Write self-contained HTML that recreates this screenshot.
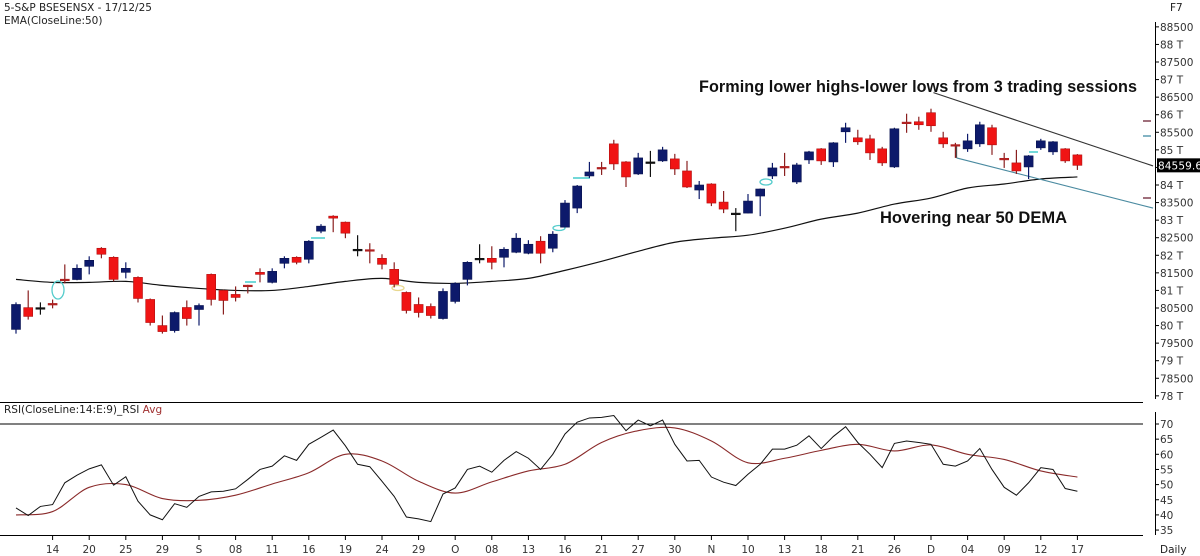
<!DOCTYPE html>
<html><head><meta charset="utf-8"><style>
html,body{margin:0;padding:0;background:#fff;}
svg{display:block;font-family:Tahoma,"DejaVu Sans","Liberation Sans",sans-serif;}
</style></head><body>
<svg id="c" width="1200" height="556" viewBox="0 0 1200 556">
<rect width="1200" height="556" fill="#fff"/>
<text x="4" y="11" font-size="10.5" fill="#222">5-S&amp;P BSESENSX - 17/12/25</text>
<text x="4" y="24" font-size="10.5" fill="#222">EMA(CloseLine:50)</text>
<text x="1170" y="11" font-size="10.5" fill="#222">F7</text>
<text x="4" y="413" font-size="10.5" fill="#222">RSI(CloseLine:14:E:9)_RSI <tspan fill="#a03030">Avg</tspan></text>
<text x="1160" y="553" font-size="10.5" fill="#222">Daily</text>
<line x1="1155.5" y1="22" x2="1155.5" y2="399" stroke="#000"/>
<line x1="1155.5" y1="412" x2="1155.5" y2="535" stroke="#000"/>
<line x1="0" y1="402.5" x2="1143" y2="402.5" stroke="#000"/>
<line x1="0" y1="535.5" x2="1143" y2="535.5" stroke="#000"/>
<text x="699" y="92" font-size="16.2" font-weight="bold" font-family="Liberation Sans,sans-serif" fill="#111" textLength="438">Forming lower highs-lower lows from 3 trading sessions</text>
<text x="880" y="223" font-size="16.5" font-weight="bold" font-family="Liberation Sans,sans-serif" fill="#111" textLength="187">Hovering near 50 DEMA</text>
<g id="g"></g>
</svg>
<script>
const opens=[79890,80510,80510,80630,81320,81310,81686,82200,81943,81514,81371,80743,80000,79857,80514,80457,81457,81000,80886,81150,81514,81229,81771,81943,81886,82686,83114,82943,82171,82160,81914,81600,80943,80600,80543,80200,80686,81314,81914,81914,81943,82086,82057,82400,82200,82800,83343,84257,84500,85171,84657,84314,84657,84686,84743,84400,83857,84029,83514,83200,83200,83686,84257,84530,84086,84714,85029,84657,85514,85343,85314,85029,84514,85790,85800,86057,85343,85150,85029,85171,85629,84760,84629,84514,85057,84943,85029,84857];
const highs=[80660,81000,80660,80740,81740,81740,81971,82230,81970,81800,81400,80770,80286,80400,80714,80629,81480,81020,81114,81160,81629,81629,81971,81970,82429,82886,83140,82960,82571,82343,82029,81800,80970,80800,80629,81057,81230,81829,82314,82257,82229,82629,82429,82543,82686,83571,84000,84657,84657,85286,84680,84914,84971,85086,84886,84686,84114,84050,83829,83343,83743,83900,84629,84914,84629,84971,85050,85220,85771,85571,85429,85086,85630,86029,85943,86171,85514,85200,85457,85800,85714,84914,85000,84850,85314,85250,85050,84880];
const lows=[79770,80170,80310,80490,81200,81290,81457,81914,81257,81343,80657,80000,79771,79800,80000,80000,80571,80314,80686,80914,81229,81200,81629,81743,81771,82629,82657,82486,81971,81771,81600,81086,80343,80229,80200,80171,80629,81143,81771,81600,81657,82060,82029,81771,82086,82790,83200,84200,84286,84429,83943,84286,84229,84657,84286,83914,83600,83400,83200,82686,83190,83114,84171,84257,84029,84600,84571,84514,85200,85143,84714,84543,84486,85486,85571,85514,85057,84771,84943,85086,84857,84486,84314,84171,85000,84857,84629,84429];
const closes=[80600,80260,80510,80610,81300,81630,81857,82029,81314,81629,80771,80086,79829,80371,80200,80571,80743,80714,80800,81130,81457,81543,81914,81800,82400,82829,83057,82629,82171,82140,81743,81171,80429,80371,80286,80971,81200,81800,81914,81800,82171,82486,82314,82057,82600,83486,83971,84371,84480,84600,84229,84771,84657,85000,84457,83943,84000,83486,83314,83200,83543,83886,84486,84500,84571,84943,84686,85200,85629,85229,84914,84629,85600,85770,85714,85686,85171,85130,85257,85714,85143,84740,84400,84829,85257,85229,84686,84560];
const emaValues=[81314,81229,81229,81257,81143,81057,81000,81000,81114,81257,81343,81229,81200,81257,81343,81571,81829,82114,82371,82486,82571,82771,83029,83200,83457,83629,83914,84029,84171,84229];
const rsiValues=[42.3,39.8,42.8,43.4,50.6,53.1,55.2,56.5,49.8,52.6,44.5,40,38.4,43.7,42.5,46.1,47.6,47.8,48.6,51.7,55,56.1,59.5,58,63.3,65.6,68,62.8,56.7,55.9,51.1,46.1,39.3,38.7,37.8,46.9,48.9,55,56.1,54.1,58,60.9,58.7,55,60,66.7,70.6,72,72.2,72.8,67.8,71.3,69.4,71.3,63.3,57.8,58,52.5,50.8,49.7,53.4,56.7,61.7,61.7,63,66.1,61.9,65.9,69.1,63.9,60,55.6,63.6,64.4,63.9,63.3,56.7,56.1,57.8,61.9,55,49.1,46.5,50.6,55.6,55,48.7,47.8];
const rsiAvg=[40,41.1,49.1,50,45.4,44.8,46.5,50.2,53.9,60,57.8,51.1,47.2,50.9,54.5,56.7,63.9,67.8,68.7,64.4,57.2,58.7,61.3,63.3,61.1,63.1,60,58.3,54.5,52.5];
const priceTicks=[88500,88000,87500,87000,86500,86000,85500,85000,84500,84000,83500,83000,82500,82000,81500,81000,80500,80000,79500,79000,78500,78000];
const rsiTicks=[70,65,60,55,50,45,40,35];
const dateLabels=["14","20","25","29","S","08","11","16","19","24","29","O","08","13","16","21","27","30","N","10","13","18","21","26","D","04","09","12","17"];
const dateIdx=[3,6,9,12,15,18,21,24,27,30,33,36,39,42,45,48,51,54,57,60,63,66,69,72,75,78,81,84,87];
const upperTrend=[[75.2,86629],[93.2,84543]];
const lowerTrend=[[77.1,84771],[93.2,83343]];
const lastPrice=84559.6;

const NS='http://www.w3.org/2000/svg';
const g=document.getElementById('g');
const xI=i=>16+12.2*i;
const yP=p=>185-(p-84000)*0.03514;
const yR=v=>424+(70-v)*3.03;
function mk(tag,attrs){const e=document.createElementNS(NS,tag);for(const k in attrs)e.setAttribute(k,attrs[k]);g.appendChild(e);return e;}
function smooth(pts){let d='M'+pts[0][0]+','+pts[0][1];for(let k=1;k<pts.length;k++){const p0=pts[k-2]||pts[k-1],p1=pts[k-1],p2=pts[k],p3=pts[k+1]||p2;d+=' C'+(p1[0]+(p2[0]-p0[0])/6)+','+(p1[1]+(p2[1]-p0[1])/6)+' '+(p2[0]-(p3[0]-p1[0])/6)+','+(p2[1]-(p3[1]-p1[1])/6)+' '+p2[0]+','+p2[1];}return d;}

priceTicks.forEach(p=>{
  const y=yP(p);
  const t=mk('line',{x1:1155,y1:y,x2:1159,y2:y,stroke:'#000'});
  
  
  const lbl=mk('text',{x:1160,y:y+4,'font-size':10.5,fill:'#333'});
  lbl.textContent=(p%1000===0)?(p/1000)+' T':String(p);
  
  
});
rsiTicks.forEach(v=>{
  const y=yR(v);
  const t=mk('line',{x1:1155,y1:y,x2:1159,y2:y,stroke:'#000'});
  
  
  const lbl=mk('text',{x:1160,y:y+4,'font-size':10.5,fill:'#333'});
  lbl.textContent=String(v);
  
  
});
const l70=mk('line',{x1:0,y1:yR(70),x2:1143,y2:yR(70),stroke:'#000'});


dateLabels.forEach((d,k)=>{
  const x=xI(dateIdx[k]);
  const t=mk('line',{x1:x,y1:536,x2:x,y2:540,stroke:'#000'});
  
  
  const lbl=mk('text',{x:x,y:553,'font-size':10.5,fill:'#333','text-anchor':'middle'});
  lbl.textContent=d;
  
  
});
const emaPath=mk('path',{d:smooth(emaValues.map((v,k)=>[xI(k*3),yP(v)])),fill:'none',stroke:'#111','stroke-width':1.2});


const ut=mk('line',{x1:xI(upperTrend[0][0]),y1:yP(upperTrend[0][1]),x2:xI(upperTrend[1][0]),y2:yP(upperTrend[1][1]),stroke:'#333','stroke-width':1.1});


const lt=mk('line',{x1:xI(lowerTrend[0][0]),y1:yP(lowerTrend[0][1]),x2:xI(lowerTrend[1][0]),y2:yP(lowerTrend[1][1]),stroke:'#4a8aa0','stroke-width':1.1});


const lv=mk('line',{x1:xI(lowerTrend[0][0]),y1:yP(lowerTrend[0][1])-13,x2:xI(lowerTrend[0][0]),y2:yP(lowerTrend[0][1]),stroke:'#333'});


[[58,290,6,9,'#5cc'],[559,228,6,2.5,'#5cc'],[766,182,6,3,'#5cc'],[398,288,6,2.5,'#e8d890']].forEach(m=>{
  const e=mk('ellipse',{cx:m[0],cy:m[1],rx:m[2],ry:m[3],fill:'none',stroke:m[4],'stroke-width':1.3});
  
  
});
[[245,256,282],[311,325,238],[573,590,178],[1029,1038,152]].forEach(m=>{
  const e=mk('line',{x1:m[0],y1:m[2],x2:m[1],y2:m[2],stroke:'#4cc','stroke-width':1.5});
  
  
});
[[121,'#804050'],[136,'#5a9ab0'],[198,'#804050']].forEach(m=>{
  const e=mk('line',{x1:1143,y1:m[0],x2:1151,y2:m[0],stroke:m[1],'stroke-width':1.5});
  
  
});
opens.forEach((o,i)=>{
  const c=closes[i],h=highs[i],l=lows[i],x=xI(i);
  const up=c>o, doji=Math.abs(c-o)<35;
  const col=doji?(c>=o?'#111':'#b02020'):(up?'#0d1a6b':'#f01414');
  const wick=mk('line',{x1:x,y1:yP(h),x2:x,y2:yP(l),stroke:up?'#0d1a6b':(doji&&c>=o?'#111':'#8a2020'),'stroke-width':1.2});
  
  
  const top=yP(Math.max(o,c)),bot=yP(Math.min(o,c));
  const body=mk('rect',{x:x-4.5,y:top,width:9,height:Math.max(bot-top,1.6),fill:col,stroke:doji?col:(up?'#0a1450':'#b01010'),'stroke-width':0.6});
  
  
});
const avgLine=mk('path',{d:smooth(rsiAvg.map((v,k)=>[xI(k*3),yR(v)])),fill:'none',stroke:'#8a2a2a','stroke-width':1.1});


const rsiLine=mk('polyline',{points:rsiValues.map((v,i)=>xI(i)+','+yR(v)).join(' '),fill:'none',stroke:'#111','stroke-width':1});


const ly=yP(lastPrice);
const box=mk('rect',{x:1157,y:ly-7,width:43,height:14,fill:'#000'});


const lpt=mk('text',{x:1158,y:ly+4,'font-size':10.5,fill:'#fff',textLength:44});
lpt.textContent=lastPrice.toFixed(1);


</script>
</body></html>
